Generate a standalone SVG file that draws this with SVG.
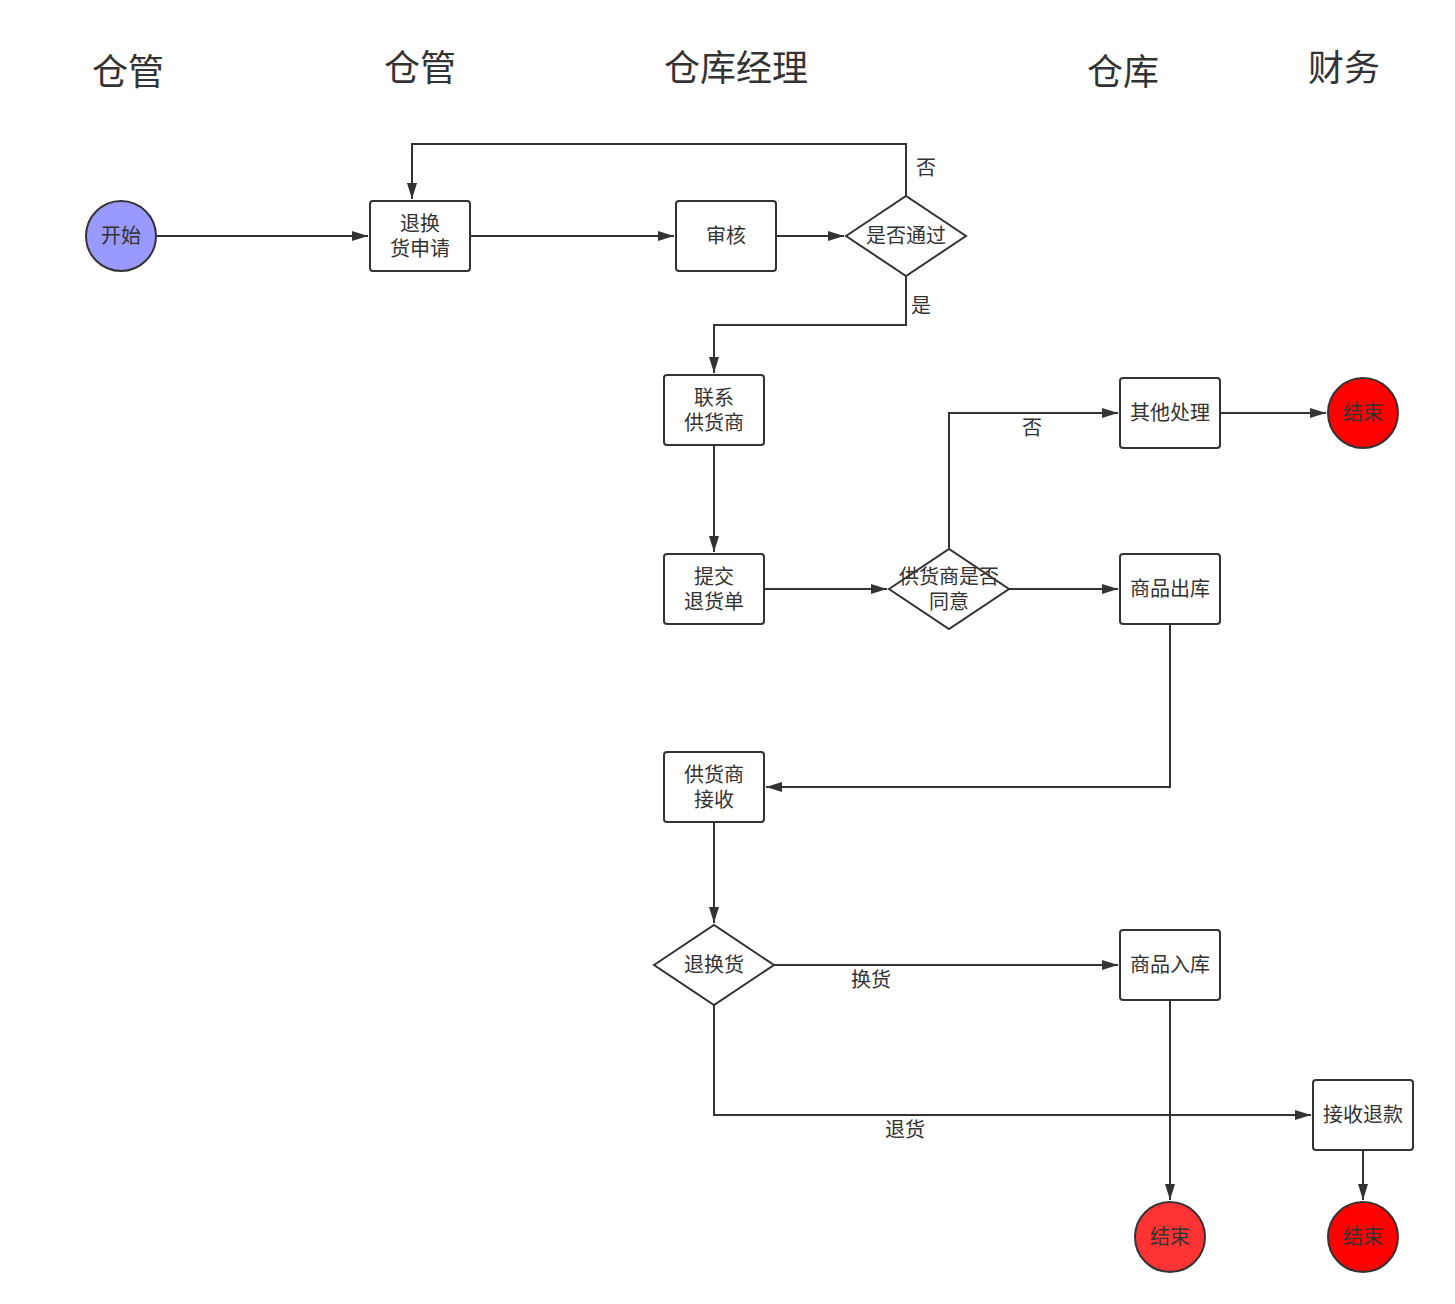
<svg xmlns="http://www.w3.org/2000/svg" width="1455" height="1304" viewBox="0 0 1455 1304">
<style>
text{font-family:"Noto Sans CJK SC","Noto Sans",sans-serif;fill:#333;text-anchor:middle;}
.h{font-size:36px;}
.t{font-size:20px;dominant-baseline:central;}
.l{font-size:20px;dominant-baseline:central;}
.box{fill:#fff;stroke:#333;stroke-width:2;}
.c{stroke:#333;stroke-width:2;}
.e{fill:none;stroke:#333;stroke-width:2;}
</style>
<defs>
<marker id="ah" viewBox="0 0 16 10" refX="16" refY="5" markerWidth="16" markerHeight="10" markerUnits="userSpaceOnUse" orient="auto">
<path d="M0,0 L16,5 L0,10 z" fill="#333"/>
</marker>
</defs>
<rect width="1455" height="1304" fill="#fff"/>
<g id="headers">
<text class="h" x="128" y="85">仓管</text>
<text class="h" x="420" y="81">仓管</text>
<text class="h" x="736" y="81">仓库经理</text>
<text class="h" x="1123" y="85">仓库</text>
<text class="h" x="1344" y="81">财务</text>
</g>
<g id="edges">
<path class="e" d="M156,236 L368,236" marker-end="url(#ah)"/>
<path class="e" d="M470,236 L674,236" marker-end="url(#ah)"/>
<path class="e" d="M776,236 L844,236" marker-end="url(#ah)"/>
<path class="e" d="M906,196 L906,144 L412,144 L412,199" marker-end="url(#ah)"/>
<path class="e" d="M906,276 L906,325 L714,325 L714,373" marker-end="url(#ah)"/>
<path class="e" d="M714,445 L714,552" marker-end="url(#ah)"/>
<path class="e" d="M764,589 L887,589" marker-end="url(#ah)"/>
<path class="e" d="M949,549 L949,413 L1118,413" marker-end="url(#ah)"/>
<path class="e" d="M1220,413 L1326,413" marker-end="url(#ah)"/>
<path class="e" d="M1009,589 L1118,589" marker-end="url(#ah)"/>
<path class="e" d="M1170,624 L1170,787 L766,787" marker-end="url(#ah)"/>
<path class="e" d="M714,822 L714,923" marker-end="url(#ah)"/>
<path class="e" d="M774,965 L1118,965" marker-end="url(#ah)"/>
<path class="e" d="M1170,1000 L1170,1200" marker-end="url(#ah)"/>
<path class="e" d="M714,1005 L714,1115 L1311,1115" marker-end="url(#ah)"/>
<path class="e" d="M1363,1150 L1363,1200" marker-end="url(#ah)"/>
<text class="l" x="926" y="166">否</text>
<text class="l" x="921" y="304">是</text>
<text class="l" x="1032" y="426">否</text>
<text class="l" x="871" y="978">换货</text>
<text class="l" x="905" y="1128">退货</text>
</g>
<g id="start"><circle class="c" cx="121" cy="236" r="35" fill="#9999ff"/><text class="t" x="121" y="234">开始</text></g>
<g id="apply"><rect class="box" x="370" y="201" width="100" height="70" rx="3"/><text class="t" x="420" y="222">退换<tspan x="420" dy="25">货申请</tspan></text></g>
<g id="review"><rect class="box" x="676" y="201" width="100" height="70" rx="3"/><text class="t" x="726" y="234">审核</text></g>
<g id="pass"><polygon class="box" points="846,236 906,196 966,236 906,276"/><text class="t" x="906" y="234">是否通过</text></g>
<g id="contact"><rect class="box" x="664" y="375" width="100" height="70" rx="3"/><text class="t" x="714" y="396">联系<tspan x="714" dy="25">供货商</tspan></text></g>
<g id="submit"><rect class="box" x="664" y="554" width="100" height="70" rx="3"/><text class="t" x="714" y="575">提交<tspan x="714" dy="25">退货单</tspan></text></g>
<g id="agree"><polygon class="box" points="889,589 949,549 1009,589 949,629"/><text class="t" x="949" y="575">供货商是否<tspan x="949" dy="25">同意</tspan></text></g>
<g id="other"><rect class="box" x="1120" y="378" width="100" height="70" rx="3"/><text class="t" x="1170" y="411">其他处理</text></g>
<g id="end1"><circle class="c" cx="1363" cy="413" r="35" fill="#ff0000"/><text class="t" x="1363" y="411">结束</text></g>
<g id="out"><rect class="box" x="1120" y="554" width="100" height="70" rx="3"/><text class="t" x="1170" y="587">商品出库</text></g>
<g id="receive"><rect class="box" x="664" y="752" width="100" height="70" rx="3"/><text class="t" x="714" y="773">供货商<tspan x="714" dy="25">接收</tspan></text></g>
<g id="type"><polygon class="box" points="654,965 714,925 774,965 714,1005"/><text class="t" x="714" y="963">退换货</text></g>
<g id="in"><rect class="box" x="1120" y="930" width="100" height="70" rx="3"/><text class="t" x="1170" y="963">商品入库</text></g>
<g id="refund"><rect class="box" x="1313" y="1080" width="100" height="70" rx="3"/><text class="t" x="1363" y="1113">接收退款</text></g>
<g id="end2"><circle class="c" cx="1170" cy="1237" r="35" fill="#ff3333"/><text class="t" x="1170" y="1235">结束</text></g>
<g id="end3"><circle class="c" cx="1363" cy="1237" r="35" fill="#ff0000"/><text class="t" x="1363" y="1235">结束</text></g>
</svg>
